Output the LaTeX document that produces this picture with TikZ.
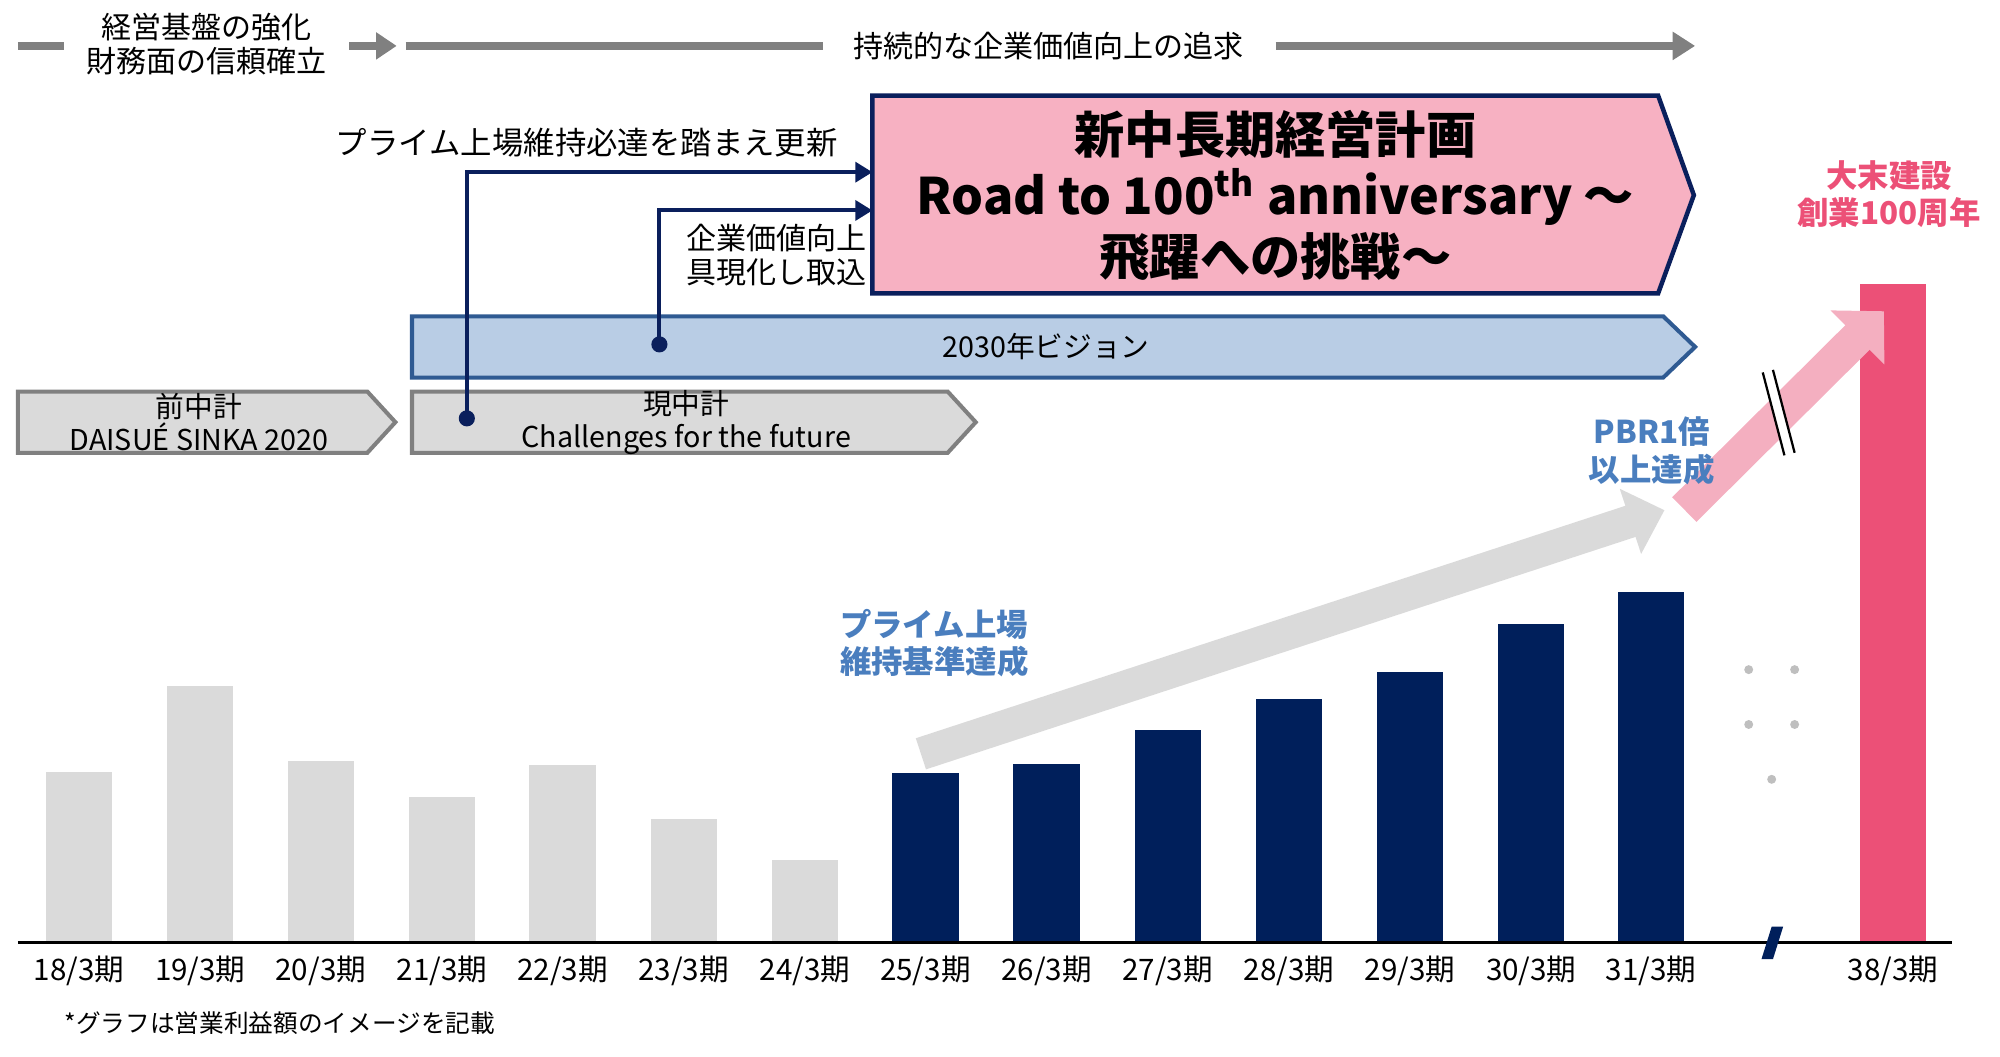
\documentclass[tikz,border=0pt]{standalone}
\usepackage{fontspec}
\setmainfont{Noto Sans CJK JP}
\usetikzlibrary{arrows.meta, calc}
\definecolor{navy}{HTML}{0A1F5C}
\definecolor{barnavy}{HTML}{001F5B}
\definecolor{bargray}{HTML}{DADADA}
\definecolor{flowgray}{HTML}{808080}
\definecolor{planpink}{HTML}{F7B1C2}
\definecolor{arrowpink}{HTML}{F4AFC0}
\definecolor{hotpink}{HTML}{EC5077}
\definecolor{visionblue}{HTML}{B9CDE5}
\definecolor{visionedge}{HTML}{2F5A92}
\definecolor{labelblue}{HTML}{4A7EBE}
\definecolor{dotgray}{HTML}{BFBFBF}

\begin{document}
\begin{tikzpicture}[
  x=0.01cm, y=-0.01cm,
  >={Triangle[length=3.8pt, width=4.4pt]},
  txt/.style={font=\fontsize{6.7}{7.7}\selectfont, inner sep=0pt, align=center},
  boxtxt/.style={font=\fontsize{6.4}{7.4}\selectfont, inner sep=0pt, align=center},
  axlbl/.style={font=\fontsize{6.6}{7.6}\selectfont, inner sep=0pt},
  boldlbl/.style={font=\fontsize{7}{8.3}\selectfont\bfseries, inner sep=0pt},
  flow/.style={flowgray, line width=1.7pt},
  link/.style={navy, line width=0.9pt, ->},
]

% ══════════════════════════════════════════════════════
% Canvas (pixel grid, y pointing down)
% ══════════════════════════════════════════════════════
\useasboundingbox (0,0) rectangle (1568,828);
\pgfmathsetmacro{\base}{739}
\pgfmathsetmacro{\bw}{26}

% ══════════════════════════════════════════════════════
% Top timeline
% ══════════════════════════════════════════════════════
\node[txt] (basis) at (162,34.5) {経営基盤の強化\\財務面の信頼確立};
\node[txt] (pursuit) at (822,36) {持続的な企業価値向上の追求};

\draw[flow] (14,36) -- (50,36);
\draw[flow, -{Triangle[length=4.6pt, width=5.8pt]}] (274,36) -- (311,36);
\draw[flow] (318,36) -- (645,36);
\draw[flow, -{Triangle[length=5pt, width=6pt]}] (1000,36) -- (1329,36);

% ══════════════════════════════════════════════════════
% New mid/long-term plan
% ══════════════════════════════════════════════════════
\filldraw[fill=planpink, draw=navy, line width=1pt]
  (684,75) -- (1300,75) -- (1328,153) -- (1300,230) -- (684,230) -- cycle;
\node[font=\fontsize{11.2}{13.6}\selectfont\bfseries, inner sep=0pt, align=center]
  (plan) at (1000,153)
  {新中長期経営計画\\Road to 100\textsuperscript{th} anniversary ～\\飛躍への挑戦～};

\coordinate (planA) at (684,135);
\coordinate (planB) at (684,165);

\node[txt, font=\fontsize{7}{8}\selectfont] (renew) at (460,112) {プライム上場維持必達を踏まえ更新};
\node[txt, anchor=east, align=right] (value) at (680,200) {企業価値向上\\具現化し取込};

% ══════════════════════════════════════════════════════
% 2030 vision
% ══════════════════════════════════════════════════════
\filldraw[fill=visionblue, draw=visionedge, line width=0.9pt]
  (323,248) -- (1304,248) -- (1329,272) -- (1304,296) -- (323,296) -- cycle;
\node[boxtxt] (vision) at (820,272) {2030年ビジョン};

% ══════════════════════════════════════════════════════
% Previous and current plans
% ══════════════════════════════════════════════════════
\filldraw[fill=bargray, draw=flowgray, line width=0.9pt]
  (14,307) -- (288,307) -- (310,331) -- (288,355) -- (14,355) -- cycle;
\node[boxtxt] (prevplan) at (156,331) {前中計\\DAISUÉ SINKA 2020};

\filldraw[fill=bargray, draw=flowgray, line width=0.9pt]
  (323,307) -- (743,307) -- (765,331) -- (743,355) -- (323,355) -- cycle;
\node[boxtxt] (curplan) at (538,331) {現中計\\Challenges for the future};

% connectors into the new plan
\coordinate (dotA) at (366,328);
\coordinate (dotB) at (517,270);
\draw[link] (dotA) |- (planA);
\draw[link] (dotB) |- (planB);
\fill[navy] (dotA) circle (1.8pt);
\fill[navy] (dotB) circle (1.8pt);

% ══════════════════════════════════════════════════════
% Bars
% ══════════════════════════════════════════════════════
\foreach \cx/\top in {62/605, 157/538, 251.5/597, 346.5/625, 441/600, 536/642, 631/674}{
  \fill[bargray] (\cx-\bw,\top) rectangle (\cx+\bw,\base);
}
\foreach \cx/\top in {725.5/606, 820.5/599, 915.5/572, 1010.5/548, 1105.5/527, 1200.5/489, 1294.5/464}{
  \fill[barnavy] (\cx-\bw,\top) rectangle (\cx+\bw,\base);
}
\fill[hotpink] (1458,223) rectangle (1510,\base);

% axis and break
\draw[black, line width=0.6pt] (14,\base) -- (1530,\base);
\fill[barnavy] (1389,726.5) -- (1398,726.5) -- (1390,752) -- (1381,752) -- cycle;

% axis labels
\foreach \cx/\yr in {62/18, 157/19, 251.5/20, 346.5/21, 441/22, 536/23, 631/24,
  725.5/25, 820.5/26, 915.5/27, 1010.5/28, 1105.5/29, 1200.5/30, 1294.5/31, 1484/38}{
  \node[axlbl] (yr\yr) at (\cx,761) {\yr/3期};
}

% skipped years
\foreach \px/\py in {1371/525, 1407/525, 1371/568, 1407/568, 1389/611}{
  \fill[dotgray] (\px,\py) circle (1pt);
}

% ══════════════════════════════════════════════════════
% Growth arrows
% ══════════════════════════════════════════════════════
\coordinate (trendS) at (722,591);
\coordinate (trendE) at (1305,400);
\draw[bargray, line width=7.3pt, -{Triangle[length=8pt, width=14.8pt]}] (trendS) -- (trendE);

\coordinate (jumpS) at (1320.5,399.5);
\coordinate (jumpE) at (1477,244);
\draw[arrowpink, line width=7.7pt, -{Triangle[length=8.3pt, width=16.5pt]}] (jumpS) -- (jumpE);

% break mark on the jump
\fill[white] (1382,292) -- (1390,290) -- (1407,355) -- (1399,357) -- cycle;
\draw[black, line width=0.5pt] (1382,292) -- (1399,357);
\draw[black, line width=0.5pt] (1390,290) -- (1407,355);

% ══════════════════════════════════════════════════════
% Milestone labels
% ══════════════════════════════════════════════════════
\node[boldlbl, labelblue, anchor=west, align=left] (prime) at (658,504.5) {プライム上場\\維持基準達成};
\node[boldlbl, labelblue, align=center] (pbr) at (1295,353.5) {PBR1倍\\以上達成};
\node[boldlbl, hotpink, align=center] (centen) at (1481,152) {大末建設\\創業100周年};

% footnote
\node[anchor=west, font=\fontsize{5.5}{6.5}\selectfont, inner sep=0pt] (note) at (50,802)
  {*グラフは営業利益額のイメージを記載};

\end{tikzpicture}
\end{document}
